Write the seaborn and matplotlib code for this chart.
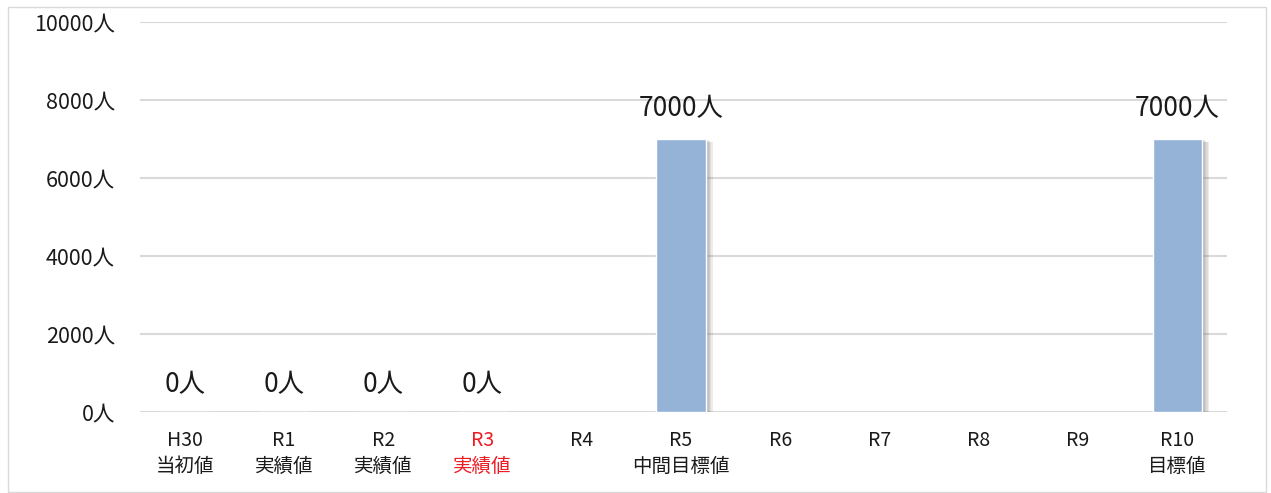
# 年度別 人数 (当初値・実績値・目標値)
import numpy as np
import pandas as pd
import matplotlib as mpl
import matplotlib.pyplot as plt
import matplotlib.patheffects as pe
import seaborn as sns

# データ
years = ["H30", "R1", "R2", "R3", "R4", "R5", "R6", "R7", "R8", "R9", "R10"]
notes = ["当初値", "実績値", "実績値", "実績値", "", "中間目標値", "", "", "", "", "目標値"]
people = [0, 0, 0, 0, np.nan, 7000, np.nan, np.nan, np.nan, np.nan, 7000]
yticks = [0, 2000, 4000, 6000, 8000, 10000]

df = pd.DataFrame({"year": years, "people": people})

# スタイル
sns.set_theme(style="white")
plt.rcParams['font.family'] = ['Noto Sans CJK JP', 'DejaVu Sans']
mpl.rc('axes', unicode_minus=False)

fig = plt.figure(figsize=(12.71, 4.93), dpi=100)
ax = fig.add_axes([140/1271, 1-412/493, (1227-140)/1271, (412-22)/493])

sns.barplot(data=df.dropna(), x="year", y="people", order=years,
            color="#95B3D7", saturation=1, width=0.5, ax=ax)

# 棒の影 (ぼかし風に重ねる)
shadow = [pe.SimplePatchShadow(offset=(k, -0.5*k), shadow_rgbFace="#707070", alpha=0.13)
          for k in (1, 2, 3, 4, 5)]
for p in ax.patches:
    p.set_path_effects(shadow + [pe.Normal()])

# 値ラベル
for i, v in enumerate(people):
    if np.isnan(v):
        continue
    ax.annotate(f"{int(v)}人", (i, v), xytext=(0, 10 if v == 0 else 12),
                textcoords="offset points", ha="center", va="bottom",
                fontsize=19, color="#1a1a1a")

ax.set_xlim(-0.45, 10.5)
ax.set_ylim(0, 10000)
ax.set_yticks(yticks)
ax.set_yticklabels([f"{v}人" for v in yticks], fontsize=15.5, color="#1a1a1a")
ax.set_xticks(range(len(years)))
ax.set_xticklabels([f"{y}\n{n}" if n else y for y, n in zip(years, notes)],
                   fontsize=14, color="#1a1a1a", linespacing=1.3, va="top")
ax.get_xticklabels()[3].set_color("#ee1c24")
ax.tick_params(length=0)
ax.tick_params(axis="y", pad=18)
ax.tick_params(axis="x", pad=13)
ax.set_xlabel("")
ax.set_ylabel("")

for v in yticks:
    ax.axhline(v, color="#d9d9d9", lw=1.5, zorder=0)
for s in ax.spines.values():
    s.set_visible(False)

# 外枠
fig.patches.append(mpl.patches.Rectangle((8/1271, 1/493), 1258/1271, 485/493,
                                         transform=fig.transFigure, fill=False,
                                         edgecolor="#d9d9d9", lw=1))

plt.savefig("out.png", dpi=100)
